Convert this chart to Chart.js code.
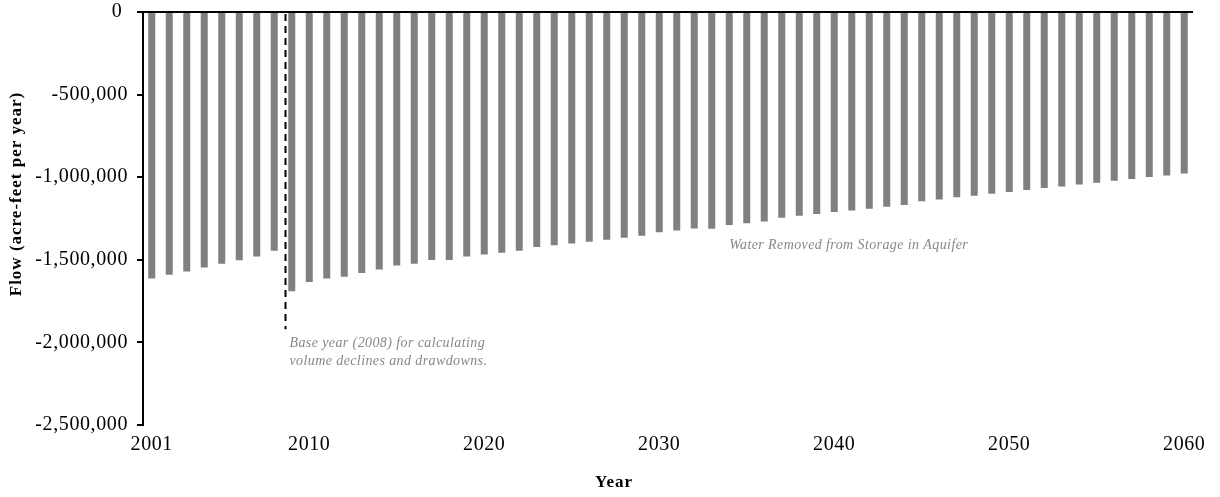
<!DOCTYPE html>
<html>
<head>
<meta charset="utf-8">
<title>Water Removed from Storage in Aquifer</title>
<script src="https://cdn.jsdelivr.net/npm/chart.js@4.4.1/dist/chart.umd.min.js"></script>
<style>
  html, body { margin: 0; padding: 0; background: #ffffff; }
  #wrap { width: 1220px; height: 497px; position: relative; }
</style>
</head>
<body>
<div id="wrap"><canvas id="flowChart" width="1220" height="497"></canvas></div>
<script>
// Simulation years
const years = [
  '2001','2002','2003','2004','2005','2006','2007','2008','2009','2010',
  '2011','2012','2013','2014','2015','2016','2017','2018','2019','2020',
  '2021','2022','2023','2024','2025','2026','2027','2028','2029','2030',
  '2031','2032','2033','2034','2035','2036','2037','2038','2039','2040',
  '2041','2042','2043','2044','2045','2046','2047','2048','2049','2050',
  '2051','2052','2053','2054','2055','2056','2057','2058','2059','2060'
];

// Water removed from aquifer storage (acre-feet per year)
const storageRemoved = [
  -1613000, -1591000, -1571000, -1547000, -1524000, -1502000, -1480000, -1445000, -1691000, -1635000,
  -1613000, -1602000, -1580000, -1558000, -1535000, -1524000, -1501000, -1501000, -1480000, -1468000,
  -1457000, -1445000, -1423000, -1412000, -1401000, -1390000, -1378000, -1367000, -1355000, -1333000,
  -1322000, -1311000, -1312000, -1290000, -1278000, -1268000, -1245000, -1233000, -1223000, -1211000,
  -1201000, -1191000, -1179000, -1169000, -1145000, -1135000, -1122000, -1112000, -1100000, -1090000,
  -1078000, -1066000, -1056000, -1044000, -1033000, -1022000, -1011000, -999000, -989000, -977000
];

// Years that carry a label on the horizontal axis
const yearTickLabels = ['2001', '2010', '2020', '2030', '2040', '2050', '2060'];

// Flow axis range and spacing
const flowMin = -2500000;
const flowMax = 0;
const flowStep = 500000;

// Axis titles
const xTitle = 'Year';
const yTitle = 'Flow (acre-feet per year)';

// Base-year marker and its note
const baseYear = '2008';
const baseLineBottom = -1920000;
const baseNote = ['Base year (2008) for calculating', 'volume declines and drawdowns.'];
const baseNoteTop = -2003000;

// Series note
const seriesNote = 'Water Removed from Storage in Aquifer';
const seriesNoteYear = '2034';
const seriesNoteValue = -1410000;

const serif = "'Liberation Serif', 'Times New Roman', Times, serif";

// Axis tick text is drawn slightly spaced out.
const spacedText = {
  id: 'spacedText',
  beforeDraw(chart) {
    chart.ctx.letterSpacing = '0.6px';
  }
};

// Base-year line, notes and axis titles
const annotations = {
  id: 'annotations',
  afterDraw(chart) {
    const { ctx, scales: { x, y } } = chart;
    const i0 = years.indexOf(baseYear);
    const step = x.getPixelForValue(i0 + 1) - x.getPixelForValue(i0);
    const lineX = Math.round(x.getPixelForValue(i0) + 0.6 * step) + 0.5;

    ctx.save();

    // dashed base-year line
    ctx.strokeStyle = '#000000';
    ctx.lineWidth = 2;
    ctx.setLineDash([7, 5]);
    ctx.beginPath();
    ctx.moveTo(lineX, y.getPixelForValue(0) + 2);
    ctx.lineTo(lineX, y.getPixelForValue(baseLineBottom));
    ctx.stroke();
    ctx.setLineDash([]);

    // notes
    ctx.letterSpacing = '0.4px';
    ctx.fillStyle = '#878787';
    ctx.font = 'italic 14px ' + serif;
    ctx.textAlign = 'left';
    ctx.textBaseline = 'middle';
    const noteTop = y.getPixelForValue(baseNoteTop);
    baseNote.forEach((line, k) => {
      ctx.fillText(line, lineX + 4, noteTop + k * 18);
    });
    const sx = x.getPixelForValue(years.indexOf(seriesNoteYear));
    ctx.fillText(seriesNote, sx, y.getPixelForValue(seriesNoteValue));

    // axis titles
    ctx.letterSpacing = '1px';
    ctx.fillStyle = '#000000';
    ctx.font = 'bold 17px ' + serif;
    ctx.textAlign = 'center';
    ctx.fillText(xTitle, 614, 483);
    ctx.translate(17, 194);
    ctx.rotate(-Math.PI / 2);
    ctx.fillText(yTitle, 0, 0);

    ctx.restore();
  }
};

new Chart(document.getElementById('flowChart'), {
  type: 'bar',
  data: {
    labels: years,
    datasets: [{
      label: seriesNote,
      data: storageRemoved,
      backgroundColor: '#808080',
      borderWidth: 0,
      barPercentage: 0.4,
      categoryPercentage: 1.0
    }]
  },
  options: {
    responsive: false,
    animation: false,
    devicePixelRatio: 1,
    layout: { padding: { left: 0, top: 12, right: 27, bottom: 0 } },
    plugins: {
      legend: { display: false },
      tooltip: { enabled: false },
      title: { display: false }
    },
    scales: {
      x: {
        type: 'category',
        position: 'bottom',
        offset: true,
        grid: { display: false, drawTicks: false },
        border: { display: false },
        ticks: {
          autoSkip: false,
          maxRotation: 0,
          minRotation: 0,
          padding: 8,
          color: '#000000',
          font: { family: serif, size: 20 },
          callback: (v, i) => yearTickLabels.includes(years[i]) ? years[i] : ''
        },
        title: { display: false },
        afterFit: (scale) => {
          scale.height = 72;
          scale.paddingLeft = 0;
          scale.paddingRight = 0;
        }
      },
      y: {
        min: flowMin,
        max: flowMax,
        grid: {
          display: true,
          drawOnChartArea: true,
          drawTicks: true,
          tickLength: 6,
          tickWidth: 2,
          tickColor: '#000000',
          lineWidth: 2,
          color: (c) => (c.tick && c.tick.value === 0) ? '#000000' : 'rgba(0,0,0,0)'
        },
        border: { display: true, color: '#000000', width: 2 },
        ticks: {
          stepSize: flowStep,
          padding: 9,
          color: '#000000',
          font: { family: serif, size: 20 },
          callback: (v) => v === 0 ? '0 ' : Number(v).toLocaleString('en-US')
        },
        title: { display: false },
        afterFit: (scale) => {
          scale.width = 143;
          scale.paddingTop = 0;
          scale.paddingBottom = 0;
        }
      }
    }
  },
  plugins: [spacedText, annotations]
});
</script>
</body>
</html>
